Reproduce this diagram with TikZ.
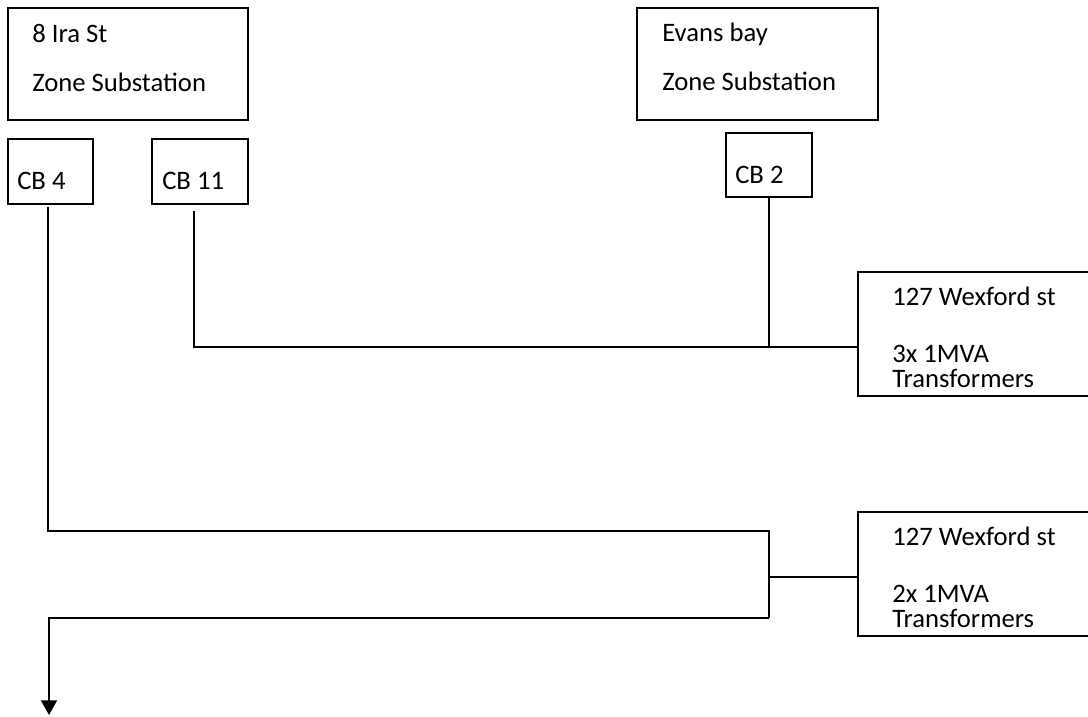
\documentclass[tikz,border=0pt]{standalone}
\usepackage{fontspec}
\setmainfont{Carlito}
\usetikzlibrary{arrows.meta,calc,positioning}
\tikzset{
  every node/.style={font=\fontsize{20}{24}\selectfont, text=black},
  station/.style={draw=black, line width=1.1pt, minimum width=180pt, minimum height=84pt},
  breaker/.style={draw=black, line width=1.1pt, minimum height=48.75pt},
  load/.style={draw=black, line width=1.1pt, minimum width=177.75pt, minimum height=93pt},
  caption/.style={anchor=base west, inner sep=0pt},
  feeder/.style={draw=black, line width=1.2pt},
  outgoing/.style={-{Triangle[length=11pt,width=12pt]}, draw=black, line width=1.2pt},
}
\begin{document}
\begin{tikzpicture}[x=0.75pt,y=-0.75pt]
  \useasboundingbox (0,0) rectangle (1088,717);
  % Zone substations
  \node[station] (ira) at (128,64) {};
  \node[caption] (iraName) at (32,43) {8 Ira St};
  \node[caption] (iraType) at (32,91) {Zone Substation};
  \node[station, minimum width=180.75pt] (evans) at (757.5,64) {};
  \node[caption] (evansName) at (662,42) {Evans bay};
  \node[caption] (evansType) at (662,90) {Zone Substation};
  % Circuit breakers
  \node[breaker, minimum width=63.75pt] (cb4) at (50.5,171.5) {};
  \node[caption] at (17,189) {CB 4};
  \node[breaker, minimum width=72pt] (cb11) at (200,171.5) {};
  \node[caption] at (162,189) {CB 11};
  \node[breaker, minimum width=64.5pt, minimum height=48pt] (cb2) at (769,165) {};
  \node[caption] at (735,183) {CB 2};
  % Loads at 127 Wexford st
  \node[load] (wexA) at (976.5,334) {};
  \node[caption] at (892,305) {127 Wexford st};
  \node[caption] at (892,362) {3x 1MVA};
  \node[caption] at (892,387) {Transformers};
  \node[load] (wexB) at (976.5,574) {};
  \node[caption] at (892,545) {127 Wexford st};
  \node[caption] at (892,602) {2x 1MVA};
  \node[caption] at (892,627) {Transformers};
  % Feeders
  \coordinate (teeA) at (769,347);
  \coordinate (bendB) at (769,531);
  \coordinate (teeB) at (769,577);
  \coordinate (bendC) at (769,618);
  \coordinate (onward) at (49,715);
  \draw[feeder] (cb2.south) -- (teeA);
  \draw[feeder] ([xshift=-4.5pt,yshift=-4.5pt]cb11.south) |- (teeA) -- (teeA -| wexA.west);
  \draw[feeder] ([xshift=-2pt,yshift=-2pt]cb4.south) |- (bendB) -- (bendC);
  \draw[feeder] (teeB) -- (teeB -| wexB.west);
  \draw[outgoing] (bendC) -| (onward);
\end{tikzpicture}
\end{document}
